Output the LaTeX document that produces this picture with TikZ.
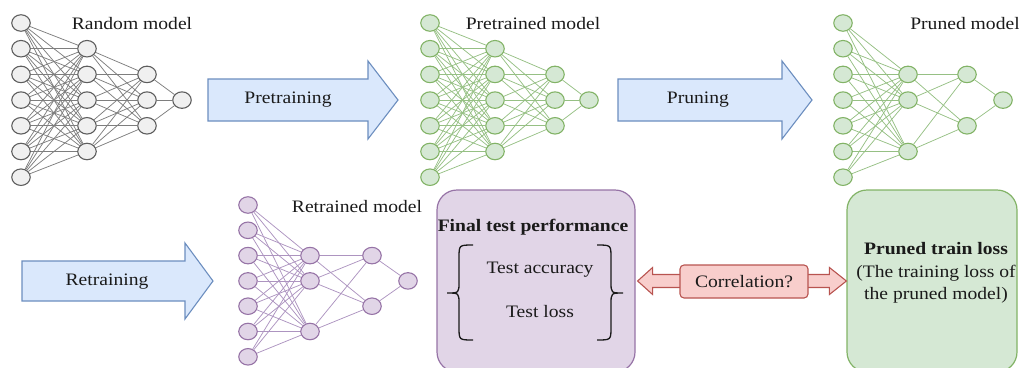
\documentclass[tikz,border=0pt]{standalone}
\usepackage{fontspec}
\setmainfont{Liberation Serif}[FakeStretch=1.12]
\usetikzlibrary{shapes.geometric,calc}
\pgfdeclarelayer{bg}
\pgfsetlayers{bg,main}
\definecolor{grayfill}{HTML}{F0F0F0}
\definecolor{graydraw}{HTML}{5E5E5E}
\definecolor{grayedge}{HTML}{7E7E7E}
\definecolor{greenfill}{HTML}{D5E8D4}
\definecolor{greendraw}{HTML}{82B366}
\definecolor{greenedge}{HTML}{96C084}
\definecolor{purplefill}{HTML}{E1D5E7}
\definecolor{purpledraw}{HTML}{9673A6}
\definecolor{purpleedge}{HTML}{AD94C0}
\definecolor{bluefill}{HTML}{DAE8FC}
\definecolor{bluedraw}{HTML}{6C8EBF}
\definecolor{redfill}{HTML}{F8CECC}
\definecolor{reddraw}{HTML}{B85450}
\definecolor{txt}{HTML}{1A1A1A}
\begin{document}
\begin{tikzpicture}[x=1pt,y=-1pt,
  every node/.style={text=txt, font=\fontsize{17.5}{22.5}\selectfont},
  neuron/.style={ellipse, minimum width=18.5pt, minimum height=16.5pt, inner sep=0pt, line width=1.1pt},
  gneuron/.style={neuron, fill=grayfill, draw=graydraw},
  eneuron/.style={neuron, fill=greenfill, draw=greendraw},
  pneuron/.style={neuron, fill=purplefill, draw=purpledraw},
  gedge/.style={draw=grayedge, line width=0.75pt},
  eedge/.style={draw=greenedge, line width=0.75pt},
  pedge/.style={draw=purpleedge, line width=0.75pt},
  blockarrow/.style={fill=bluefill, draw=bluedraw, line width=1.1pt, line join=miter},
  bigbox/.style={rounded corners=20pt, line width=1.2pt, inner sep=0pt},
  bracepath/.style={draw=txt, line width=1.3pt},
  corrbox/.style={fill=redfill, draw=reddraw, rounded corners=4pt, line width=1.1pt, minimum width=128pt, minimum height=33pt, inner sep=0pt},
  corrarrow/.style={fill=redfill, draw=reddraw, line width=1.1pt, line join=miter}]
\useasboundingbox (0,0) rectangle (1019,367);
\clip (0,0) rectangle (1019,367);

% ---------- Random model ----------
\foreach \k in {1,...,7} \node[gneuron] (A1-\k) at (21,{23+25.7*(\k-1)}) {};
\foreach \k in {2,...,6} \node[gneuron] (A2-\k) at (87,{23+25.7*(\k-1)}) {};
\foreach \k in {3,4,5} \node[gneuron] (A3-\k) at (147,{23+25.7*(\k-1)}) {};
\node[gneuron] (A4-4) at (182,{23+25.7*3}) {};
\begin{pgfonlayer}{bg}
\foreach \i in {1,...,7} \foreach \j in {2,...,6} \draw[gedge] (A1-\i) -- (A2-\j);
\foreach \i in {2,...,6} \foreach \j in {3,4,5} \draw[gedge] (A2-\i) -- (A3-\j);
\foreach \i in {3,4,5} \draw[gedge] (A3-\i) -- (A4-4);
\end{pgfonlayer}
\node (tA) at (132,24) {Random model};

% ---------- Pretrained model ----------
\foreach \k in {1,...,7} \node[eneuron] (B1-\k) at (430,{23+25.7*(\k-1)}) {};
\foreach \k in {2,...,6} \node[eneuron] (B2-\k) at (495,{23+25.7*(\k-1)}) {};
\foreach \k in {3,4,5} \node[eneuron] (B3-\k) at (555,{23+25.7*(\k-1)}) {};
\node[eneuron] (B4-4) at (589,{23+25.7*3}) {};
\begin{pgfonlayer}{bg}
\foreach \i in {1,...,7} \foreach \j in {2,...,6} \draw[eedge] (B1-\i) -- (B2-\j);
\foreach \i in {2,...,6} \foreach \j in {3,4,5} \draw[eedge] (B2-\i) -- (B3-\j);
\foreach \i in {3,4,5} \draw[eedge] (B3-\i) -- (B4-4);
\end{pgfonlayer}
\node (tB) at (533,24) {Pretrained model};

% ---------- Pruned model ----------
\foreach \k in {1,...,7} \node[eneuron] (C1-\k) at (843,{23+25.7*(\k-1)}) {};
\foreach \k in {3,4,6} \node[eneuron] (C2-\k) at (908,{23+25.7*(\k-1)}) {};
\foreach \k in {3,5} \node[eneuron] (C3-\k) at (967,{23+25.7*(\k-1)}) {};
\node[eneuron] (C4-4) at (1003,{23+25.7*3}) {};
\begin{pgfonlayer}{bg}
\foreach \i in {1,...,7} \foreach \j in {3,4,6} \draw[eedge] (C1-\i) -- (C2-\j);
\foreach \i in {3,4,6} \foreach \j in {3,5} \draw[eedge] (C2-\i) -- (C3-\j);
\foreach \i in {3,5} \draw[eedge] (C3-\i) -- (C4-4);
\end{pgfonlayer}
\node (tC) at (965,24) {Pruned model};

% ---------- Retrained model ----------
\foreach \k in {1,...,7} \node[pneuron] (D1-\k) at (248,{205+25.3*(\k-1)}) {};
\foreach \k in {3,4,6} \node[pneuron] (D2-\k) at (310,{205+25.3*(\k-1)}) {};
\foreach \k in {3,5} \node[pneuron] (D3-\k) at (372,{205+25.3*(\k-1)}) {};
\node[pneuron] (D4-4) at (408,{205+25.3*3}) {};
\begin{pgfonlayer}{bg}
\foreach \i in {1,...,7} \foreach \j in {3,4,6} \draw[pedge] (D1-\i) -- (D2-\j);
\foreach \i in {3,4,6} \foreach \j in {3,5} \draw[pedge] (D2-\i) -- (D3-\j);
\foreach \i in {3,5} \draw[pedge] (D3-\i) -- (D4-4);
\end{pgfonlayer}
\node (tD) at (357,207) {Retrained model};

% ---------- Block arrows ----------
\draw[blockarrow] (208,79) -- (368,79) -- (368,61) -- (398,100) -- (368,139) -- (368,121) -- (208,121) -- cycle;
\node (pretr) at (288,100) {Pretraining};
\draw[blockarrow] (618,79) -- (782,79) -- (782,61) -- (812,100) -- (782,139) -- (782,121) -- (618,121) -- cycle;
\node (prun) at (698,100) {Pruning};
\draw[blockarrow] (22,261) -- (185,261) -- (185,243) -- (213,281) -- (185,319) -- (185,301) -- (22,301) -- cycle;
\node (retr) at (107,282) {Retraining};

% ---------- Final test performance ----------
\node[bigbox, fill=purplefill, draw=purpledraw, minimum width=198pt, minimum height=182pt] (fin) at (536,281) {};
\node[font=\bfseries\fontsize{17.5}{22.5}\selectfont] (finT) at (533,227) {Final test performance};
\node (acc) at (540,270) {Test accuracy};
\node (tl) at (540,312) {Test loss};
\draw[bracepath] (473,245) .. controls (459,245) .. (459,258) -- (459,282) .. controls (459,293) .. (447,293) .. controls (459,293) .. (459,304) -- (459,327) .. controls (459,340) .. (473,340);
\draw[bracepath] (597,245) .. controls (611,245) .. (611,258) -- (611,282) .. controls (611,293) .. (623,293) .. controls (611,293) .. (611,304) -- (611,327) .. controls (611,340) .. (597,340);

% ---------- Pruned train loss ----------
\node[bigbox, fill=greenfill, draw=greendraw, minimum width=170pt, minimum height=182pt] (prb) at (932,281) {};
\node[align=center] (prbT) at (936,273) {\textbf{Pruned train loss}\\(The training loss of\\the pruned model)};

% ---------- Correlation double arrow ----------
\coordinate (La) at ($(fin.east)+(2,0)$);
\draw[corrarrow] (La) -- ++(15,-13.5) -- ++(0,7) -- ($(prb.west)+(-17,-6.5)$) -- ++(0,-7) -- (prb.west) -- ++(-17,13.5) -- ++(0,-7) -- ($(La)+(15,6.5)$) -- ++(0,7) -- cycle;
\node[corrbox] (cor) at (744,281.5) {Correlation?};
\end{tikzpicture}
\end{document}
